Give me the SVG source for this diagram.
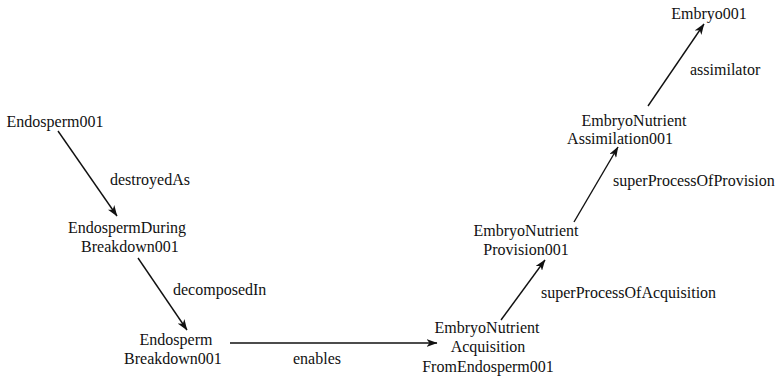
<svg xmlns="http://www.w3.org/2000/svg" width="780" height="376" viewBox="0 0 780 376">
<defs>
<style>
text{font-family:"Liberation Serif","Times New Roman",serif;font-size:16px;fill:#111}
.n text{text-anchor:middle}
.lbl{text-anchor:start}
.e line{stroke:#111;stroke-width:1.4;fill:none;marker-end:url(#ah)}
</style>
<marker id="ah" viewBox="0 0 11 8" refX="10.5" refY="4" markerWidth="11" markerHeight="8" markerUnits="userSpaceOnUse" orient="auto">
<path d="M0,0 L11,4 L0,8 L3,4 z" fill="#111"/>
</marker>
</defs>
<rect width="780" height="376" fill="#fff"/>
<g id="edges" class="e">
<line x1="58" y1="131" x2="117" y2="216"/>
<line x1="138" y1="258" x2="187" y2="330"/>
<line x1="230" y1="343" x2="437" y2="343"/>
<line x1="501" y1="320" x2="545" y2="260"/>
<line x1="574" y1="222" x2="618" y2="147"/>
<line x1="648" y1="106" x2="704" y2="24"/>
<text class="lbl" x="110" y="185">destroyedAs</text>
<text class="lbl" x="173" y="295">decomposedIn</text>
<text class="lbl" x="293" y="364">enables</text>
<text class="lbl" x="541" y="298">superProcessOfAcquisition</text>
<text class="lbl" x="613" y="186">superProcessOfProvision</text>
<text class="lbl" x="690" y="75">assimilator</text>
</g>
<g id="Endosperm001" class="n"><text x="55" y="127">Endosperm001</text></g>
<g id="EndospermDuringBreakdown001" class="n"><text x="127" y="233">EndospermDuring</text><text x="130" y="252">Breakdown001</text></g>
<g id="EndospermBreakdown001" class="n"><text x="176" y="345">Endosperm</text><text x="173" y="364">Breakdown001</text></g>
<g id="EmbryoNutrientAcquisitionFromEndosperm001" class="n"><text x="487" y="333">EmbryoNutrient</text><text x="488" y="352">Acquisition</text><text x="488" y="372">FromEndosperm001</text></g>
<g id="EmbryoNutrientProvision001" class="n"><text x="526" y="236">EmbryoNutrient</text><text x="526" y="255">Provision001</text></g>
<g id="EmbryoNutrientAssimilation001" class="n"><text x="634" y="126">EmbryoNutrient</text><text x="620" y="144">Assimilation001</text></g>
<g id="Embryo001" class="n"><text x="709" y="19">Embryo001</text></g>
</svg>
